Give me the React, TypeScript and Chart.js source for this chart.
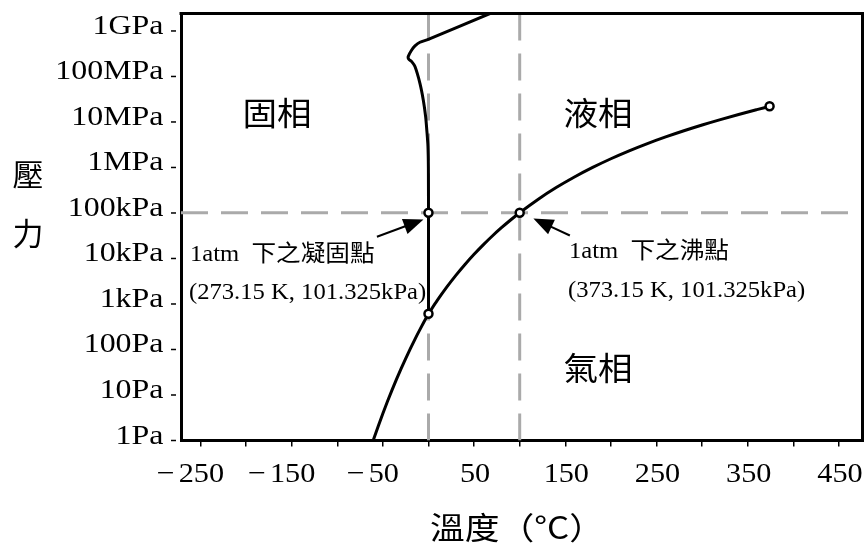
import React, { useEffect, useRef } from "react";
import { Chart, registerables } from "chart.js";

Chart.register(...registerables);

// ---- axis ranges & ticks ----
const X_MIN = -271.3;
const X_MAX = 475.8;
const Y_MIN = 1;
const Y_MAX = 2.42e9;

const xTickValues = [-250, -200, -150, -100, -50, 0, 50, 100, 150, 200, 250, 300, 350, 400, 450];
const xTickLabels = ["−250", "", "−150", "", "−50", "", "50", "", "150", "", "250", "", "350", "", "450"];
const yTickValues = [1, 10, 100, 1e3, 1e4, 1e5, 1e6, 1e7, 1e8, 1e9];
const yTickLabels = ["1Pa", "10Pa", "100Pa", "1kPa", "10kPa", "100kPa", "1MPa", "10MPa", "100MPa", "1GPa"];

// ---- phase boundaries (temperature °C, pressure Pa) ----
const sublimationT = [-62, -55, -50, -45, -40, -35, -30, -25, -20, -15, -10, -5, 0.01];
const sublimationP = [0.83, 2.09, 3.94, 7.2, 12.8, 22.3, 38.0, 63.3, 103.3, 165.5, 259.9, 401.7, 611.657];

const vaporT = [0.01, 10, 20, 30, 40, 50, 60, 70, 80, 90, 100, 120, 140, 160, 180, 200, 220, 240, 260, 280, 300, 320, 340, 360, 373.946];
const vaporP = [611.657, 1228, 2339, 4247, 7384, 12352, 19946, 31201, 47416, 70183, 101325, 198670, 361540, 618230, 1002800, 1554900, 2319600, 3346900, 4692300, 6416600, 8587900, 11284000, 14601000, 18666000, 22064000];

const meltT = [0.01, 0, -0.1, -0.6, -1.6, -3.1, -5.7, -9.3, -14.8, -18.4, -21.6, -22.2, -18.4, -14.8, -9.3, -0.2, 68];
const meltP = [611.657, 1.0e5, 1.0e6, 3.0e6, 5.8e6, 1.3e7, 3.05e7, 7.0e7, 1.65e8, 2.12e8, 2.39e8, 2.75e8, 3.82e8, 4.68e8, 5.65e8, 6.5e8, 2.45e9];

const specialT = [0.01, 0, 100, 373.946];
const specialP = [611.657, 101325, 101325, 22064000];

const freezeT = 0;
const boilT = 100;
const atmP = 101325;

// arrows (data coordinates: [T, P])
const arrowFreezeFrom = [-56.5, 3.0e4];
const arrowFreezeTo = [-5.5, 7.2e4];
const arrowBoilFrom = [155, 3.2e4];
const arrowBoilTo = [115, 7.6e4];

const toXY = (xs: number[], ys: number[]) => xs.map((x, i) => ({ x, y: ys[i] }));

const SERIF = '"Liberation Serif", "Times New Roman", serif';
const CJK = '"Noto Sans CJK TC", "Noto Sans CJK SC", sans-serif';
const TICK_FONT = `28px ${SERIF}`;
const TICK_SX = 1.14;
const XTICK_SX = 1.08;
const NOTE_FONT = `23px ${SERIF}, ${CJK}`;
const NOTE_SX = 1.07;

function drawText(ctx: CanvasRenderingContext2D, text: string, x: number, y: number, font: string, align: CanvasTextAlign, sx: number, baseline: CanvasTextBaseline = "alphabetic") {
  ctx.save();
  ctx.font = font;
  ctx.textAlign = align;
  ctx.textBaseline = baseline;
  ctx.fillStyle = "#000";
  ctx.translate(x, y);
  ctx.scale(sx, 1);
  ctx.fillText(text, 0, 0);
  ctx.restore();
}

function drawArrow(ctx: CanvasRenderingContext2D, x1: number, y1: number, x2: number, y2: number) {
  const ang = Math.atan2(y2 - y1, x2 - x1);
  const hl = 20;
  const hw = 8;
  const bx = x2 - hl * Math.cos(ang);
  const by = y2 - hl * Math.sin(ang);
  ctx.save();
  ctx.strokeStyle = "#000";
  ctx.fillStyle = "#000";
  ctx.lineWidth = 2;
  ctx.beginPath();
  ctx.moveTo(x1, y1);
  ctx.lineTo(bx + 2 * Math.cos(ang), by + 2 * Math.sin(ang));
  ctx.stroke();
  ctx.beginPath();
  ctx.moveTo(x2, y2);
  ctx.lineTo(bx + hw * Math.sin(ang), by - hw * Math.cos(ang));
  ctx.lineTo(bx - hw * Math.sin(ang), by + hw * Math.cos(ang));
  ctx.closePath();
  ctx.fill();
  ctx.restore();
}

const decorPlugin = {
  id: "decor",
  afterDraw(chart: any) {
    const { ctx, chartArea: ca, scales } = chart;
    const xs = scales.x;
    const ys = scales.y;
    ctx.save();

    // top & right frame
    ctx.strokeStyle = "#000";
    ctx.lineWidth = 3;
    ctx.lineJoin = "miter";
    ctx.beginPath();
    ctx.moveTo(ca.left - 1.5, ca.top);
    ctx.lineTo(ca.right, ca.top);
    ctx.lineTo(ca.right, ca.bottom + 1.5);
    ctx.stroke();

    // y tick marks (detached dashes) and labels
    ctx.lineWidth = 1.5;
    ys.ticks.forEach((t: any) => {
      const py = ys.getPixelForValue(t.value);
      ctx.beginPath();
      ctx.moveTo(ca.left - 10, py);
      ctx.lineTo(ca.left - 5, py);
      ctx.stroke();
      const idx = yTickValues.indexOf(t.value);
      if (idx >= 0) drawText(ctx, yTickLabels[idx], ca.left - 17.5, py + 3, TICK_FONT, "right", TICK_SX);
    });

    // x labels
    xs.ticks.forEach((t: any) => {
      const idx = xTickValues.indexOf(t.value);
      const lbl = idx >= 0 ? xTickLabels[idx] : "";
      if (!lbl) return;
      const px = xs.getPixelForValue(t.value) + 1;
      const neg = lbl.startsWith("−");
      const digits = neg ? lbl.slice(1) : lbl;
      ctx.font = TICK_FONT;
      const w = ctx.measureText(digits).width * XTICK_SX;
      drawText(ctx, digits, px, 482, TICK_FONT, "center", XTICK_SX);
      if (neg) drawText(ctx, "−", px - w / 2 - 4, 482, TICK_FONT, "right", TICK_SX);
    });

    // axis titles
    drawText(ctx, "壓", 28, 174, `31px ${CJK}`, "center", 1, "middle");
    drawText(ctx, "力", 28, 233, `31px ${CJK}`, "center", 1, "middle");
    drawText(ctx, "溫度（°C）", 517, 527, `31px ${CJK}`, "center", 1.12, "middle");

    // phase labels
    drawText(ctx, "固相", 277, 113, `32px ${CJK}`, "center", 1.08, "middle");
    drawText(ctx, "液相", 598, 113, `32px ${CJK}`, "center", 1.08, "middle");
    drawText(ctx, "氣相", 598, 368, `32px ${CJK}`, "center", 1.08, "middle");

    // annotations
    drawText(ctx, "1atm\u2002下之凝固點", 190, 261, NOTE_FONT, "left", NOTE_SX);
    drawText(ctx, "(273.15 K, 101.325kPa)", 189, 299, NOTE_FONT, "left", NOTE_SX);
    drawText(ctx, "1atm\u2002下之沸點", 569, 258, NOTE_FONT, "left", NOTE_SX);
    drawText(ctx, "(373.15 K, 101.325kPa)", 568, 297, NOTE_FONT, "left", NOTE_SX);

    // arrows
    drawArrow(ctx, xs.getPixelForValue(arrowFreezeFrom[0]), ys.getPixelForValue(arrowFreezeFrom[1]), xs.getPixelForValue(arrowFreezeTo[0]), ys.getPixelForValue(arrowFreezeTo[1]));
    drawArrow(ctx, xs.getPixelForValue(arrowBoilFrom[0]), ys.getPixelForValue(arrowBoilFrom[1]), xs.getPixelForValue(arrowBoilTo[0]), ys.getPixelForValue(arrowBoilTo[1]));

    ctx.restore();
  },
};

export default function App() {
  const ref = useRef<HTMLCanvasElement | null>(null);

  useEffect(() => {
    if (!ref.current) return;
    const noPts = { pointRadius: 0, pointHoverRadius: 0, pointBorderWidth: 0, pointHitRadius: 0 };
    const dash = { ...noPts, borderColor: "#aaaaaa", borderWidth: 3, borderDash: [27, 13], tension: 0, order: 5, fill: false };
    const curve = { ...noPts, borderColor: "#000", borderWidth: 3, fill: false, order: 3, borderCapStyle: "round" as const, borderJoinStyle: "round" as const };
    const chart = new Chart(ref.current, {
      type: "line",
      data: {
        datasets: [
          { ...dash, data: [{ x: freezeT, y: Y_MAX }, { x: freezeT, y: Y_MIN }] },
          { ...dash, data: [{ x: boilT, y: Y_MAX }, { x: boilT, y: Y_MIN }] },
          { ...dash, data: [{ x: X_MIN, y: atmP }, { x: X_MAX, y: atmP }] },
          { ...curve, data: toXY(sublimationT, sublimationP), cubicInterpolationMode: "monotone" },
          { ...curve, data: toXY(vaporT, vaporP), cubicInterpolationMode: "monotone" },
          { ...curve, data: toXY(meltT, meltP), tension: 0.25 },
          {
            type: "bubble",
            data: toXY(specialT, specialP),
            radius: 4,
            hoverRadius: 0,
            borderWidth: 2.5,
            backgroundColor: "#fff",
            borderColor: "#000",
            order: 1,
          },
        ] as any,
      },
      options: {
        animation: false,
        responsive: false,
        events: [],
        layout: { autoPadding: false, padding: { top: 13.5, right: 1.5, left: 0, bottom: 0 } },
        plugins: { legend: { display: false }, tooltip: { enabled: false } },
        scales: {
          x: {
            type: "linear",
            min: X_MIN,
            max: X_MAX,
            afterBuildTicks: (s: any) => {
              s.ticks = xTickValues.map((v) => ({ value: v }));
            },
            afterFit: (s: any) => {
              s.height = 105.5;
            },
            ticks: { display: false },
            grid: { display: true, drawOnChartArea: false, drawTicks: true, tickLength: 6, color: "#000", lineWidth: 1.5 },
            border: { display: true, width: 3, color: "#000" },
          },
          y: {
            type: "logarithmic",
            min: Y_MIN,
            max: Y_MAX,
            afterBuildTicks: (s: any) => {
              s.ticks = yTickValues.map((v) => ({ value: v }));
            },
            afterFit: (s: any) => {
              s.width = 181;
            },
            ticks: { display: false },
            grid: { display: true, drawOnChartArea: false, drawTicks: false, color: "#000" },
            border: { display: true, width: 3, color: "#000" },
          },
        },
      } as any,
      plugins: [decorPlugin],
    });
    return () => chart.destroy();
  }, []);

  return (
    <div style={{ position: "absolute", left: 0, top: 0, width: 864, height: 546, background: "#fff" }}>
      <canvas ref={ref} width={864} height={546} style={{ display: "block" }} />
    </div>
  );
}
